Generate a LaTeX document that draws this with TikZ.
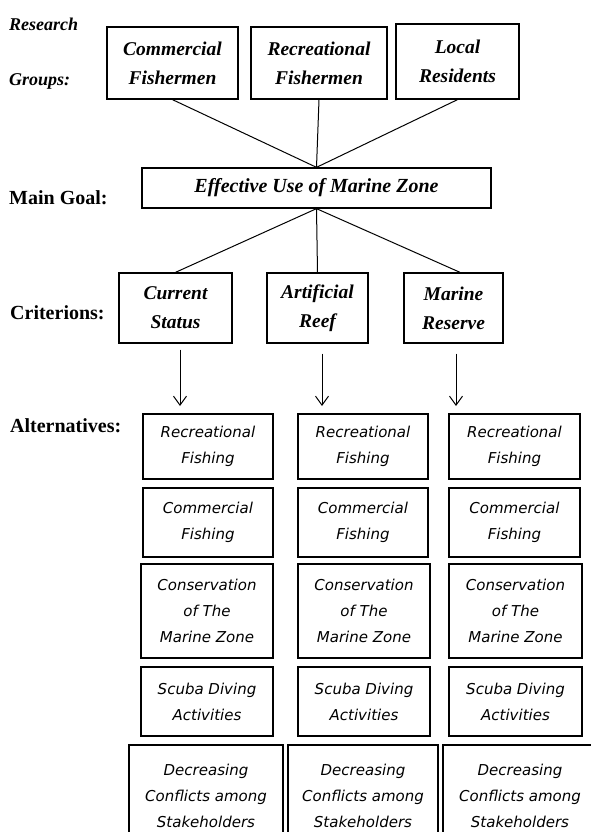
\documentclass[tikz,border=0pt]{standalone}
\usepackage{fontspec}
\setmainfont{Liberation Serif}
\newfontfamily\altfont{DejaVu Sans}
\usetikzlibrary{arrows.meta,positioning}

\tikzset{
  box/.style={draw, line width=1.3pt, align=center, inner sep=0pt},
  grp/.style={box, font=\fontsize{19.5}{29}\selectfont\bfseries\itshape},
  alt/.style={box, font=\altfont\itshape\fontsize{15}{26}\selectfont},
  lvl/.style={anchor=base west, inner sep=0pt, font=\fontsize{20}{24}\selectfont\bfseries},
  link/.style={line width=1pt},
  arr/.style={link, -{Straight Barb[length=9pt, width=13pt, line width=1pt]}},
}

\begin{document}
\begin{tikzpicture}[x=1pt, y=-1pt]
\useasboundingbox (0,0) rectangle (591,832);
\clip (0,0) rectangle (591,832);

% level labels
\node[lvl, font=\fontsize{18}{24}\selectfont\bfseries\itshape] (lres) at (9,31) {Research};
\node[lvl, font=\fontsize{18}{24}\selectfont\bfseries\itshape] (lgrp) at (9,86) {Groups:};
\node[lvl] (lgoal) at (9,204) {Main Goal:};
\node[lvl] (lcrit) at (10,319) {Criterions:};
\node[lvl] (lalt) at (10,432) {Alternatives:};

% research groups
\node[grp, minimum width=131pt, minimum height=72pt] (com) at (172.5,63) {Commercial\\Fishermen};
\node[grp, minimum width=136pt, minimum height=72pt] (rec) at (319,63) {Recreational\\Fishermen};
\node[grp, minimum width=123pt, minimum height=75pt] (loc) at (457.5,61.5) {Local\\Residents};

% main goal
\node[grp, font=\fontsize{20}{24}\selectfont\bfseries\itshape, minimum width=349pt, minimum height=40pt] (goal) at (316.5,188) {Effective Use of Marine Zone};

% criterions
\node[grp, minimum width=113pt, minimum height=70pt] (cur) at (175.5,308) {Current\\Status};
\node[grp, minimum width=101pt, minimum height=70pt] (art) at (317.5,308) {Artificial\\Reef};
\node[grp, minimum width=99pt, minimum height=70pt] (mar) at (453.5,308) {Marine\\Reserve};

\draw[link] (com.south) -- (goal.north);
\draw[link] (rec.south) -- (goal.north);
\draw[link] (loc.south) -- (goal.north);
\draw[link] (goal.south) -- (cur.north);
\draw[link] (goal.south) -- (art.north);
\draw[link] (goal.south) -- (mar.north -| 460,0);

% arrow ends
\coordinate (curA) at (180,406);
\coordinate (artA) at (322,406);
\coordinate (marA) at (456,406);
\draw[arr, shorten <=6pt] (curA |- cur.south) -- (curA);
\draw[arr, shorten <=10pt] (artA |- art.south) -- (artA);
\draw[arr, shorten <=10pt] (marA |- mar.south) -- (marA);

% alternatives, current status
\node[alt, minimum width=130pt, minimum height=65pt] (c1) at (208,446.5) {Recreational\\Fishing};
\node[alt, minimum width=130pt, minimum height=69pt] (c2) at (208,522.5) {Commercial\\Fishing};
\node[alt, minimum width=132pt, minimum height=94pt] (c3) at (207,611) {Conservation\\of The\\Marine Zone};
\node[alt, minimum width=132pt, minimum height=69pt] (c4) at (207,701.5) {Scuba Diving\\Activities};
\node[alt, minimum width=154pt, minimum height=102pt] (c5) at (206,796) {Decreasing\\Conflicts among\\Stakeholders};

% alternatives, artificial reef
\node[alt, minimum width=130pt, minimum height=65pt] (a1) at (363,446.5) {Recreational\\Fishing};
\node[alt, minimum width=130pt, minimum height=69pt] (a2) at (363,522.5) {Commercial\\Fishing};
\node[alt, minimum width=132pt, minimum height=94pt] (a3) at (364,611) {Conservation\\of The\\Marine Zone};
\node[alt, minimum width=132pt, minimum height=69pt] (a4) at (364,701.5) {Scuba Diving\\Activities};
\node[alt, minimum width=150pt, minimum height=102pt] (a5) at (363,796) {Decreasing\\Conflicts among\\Stakeholders};

% alternatives, marine reserve
\node[alt, minimum width=131pt, minimum height=65pt] (m1) at (514.5,446.5) {Recreational\\Fishing};
\node[alt, minimum width=131pt, minimum height=69pt] (m2) at (514.5,522.5) {Commercial\\Fishing};
\node[alt, minimum width=133pt, minimum height=94pt] (m3) at (515.5,611) {Conservation\\of The\\Marine Zone};
\node[alt, minimum width=133pt, minimum height=69pt] (m4) at (515.5,701.5) {Scuba Diving\\Activities};
\node[alt, minimum width=154pt, minimum height=102pt] (m5) at (520,796) {Decreasing\\Conflicts among\\Stakeholders};

\end{tikzpicture}
\end{document}
